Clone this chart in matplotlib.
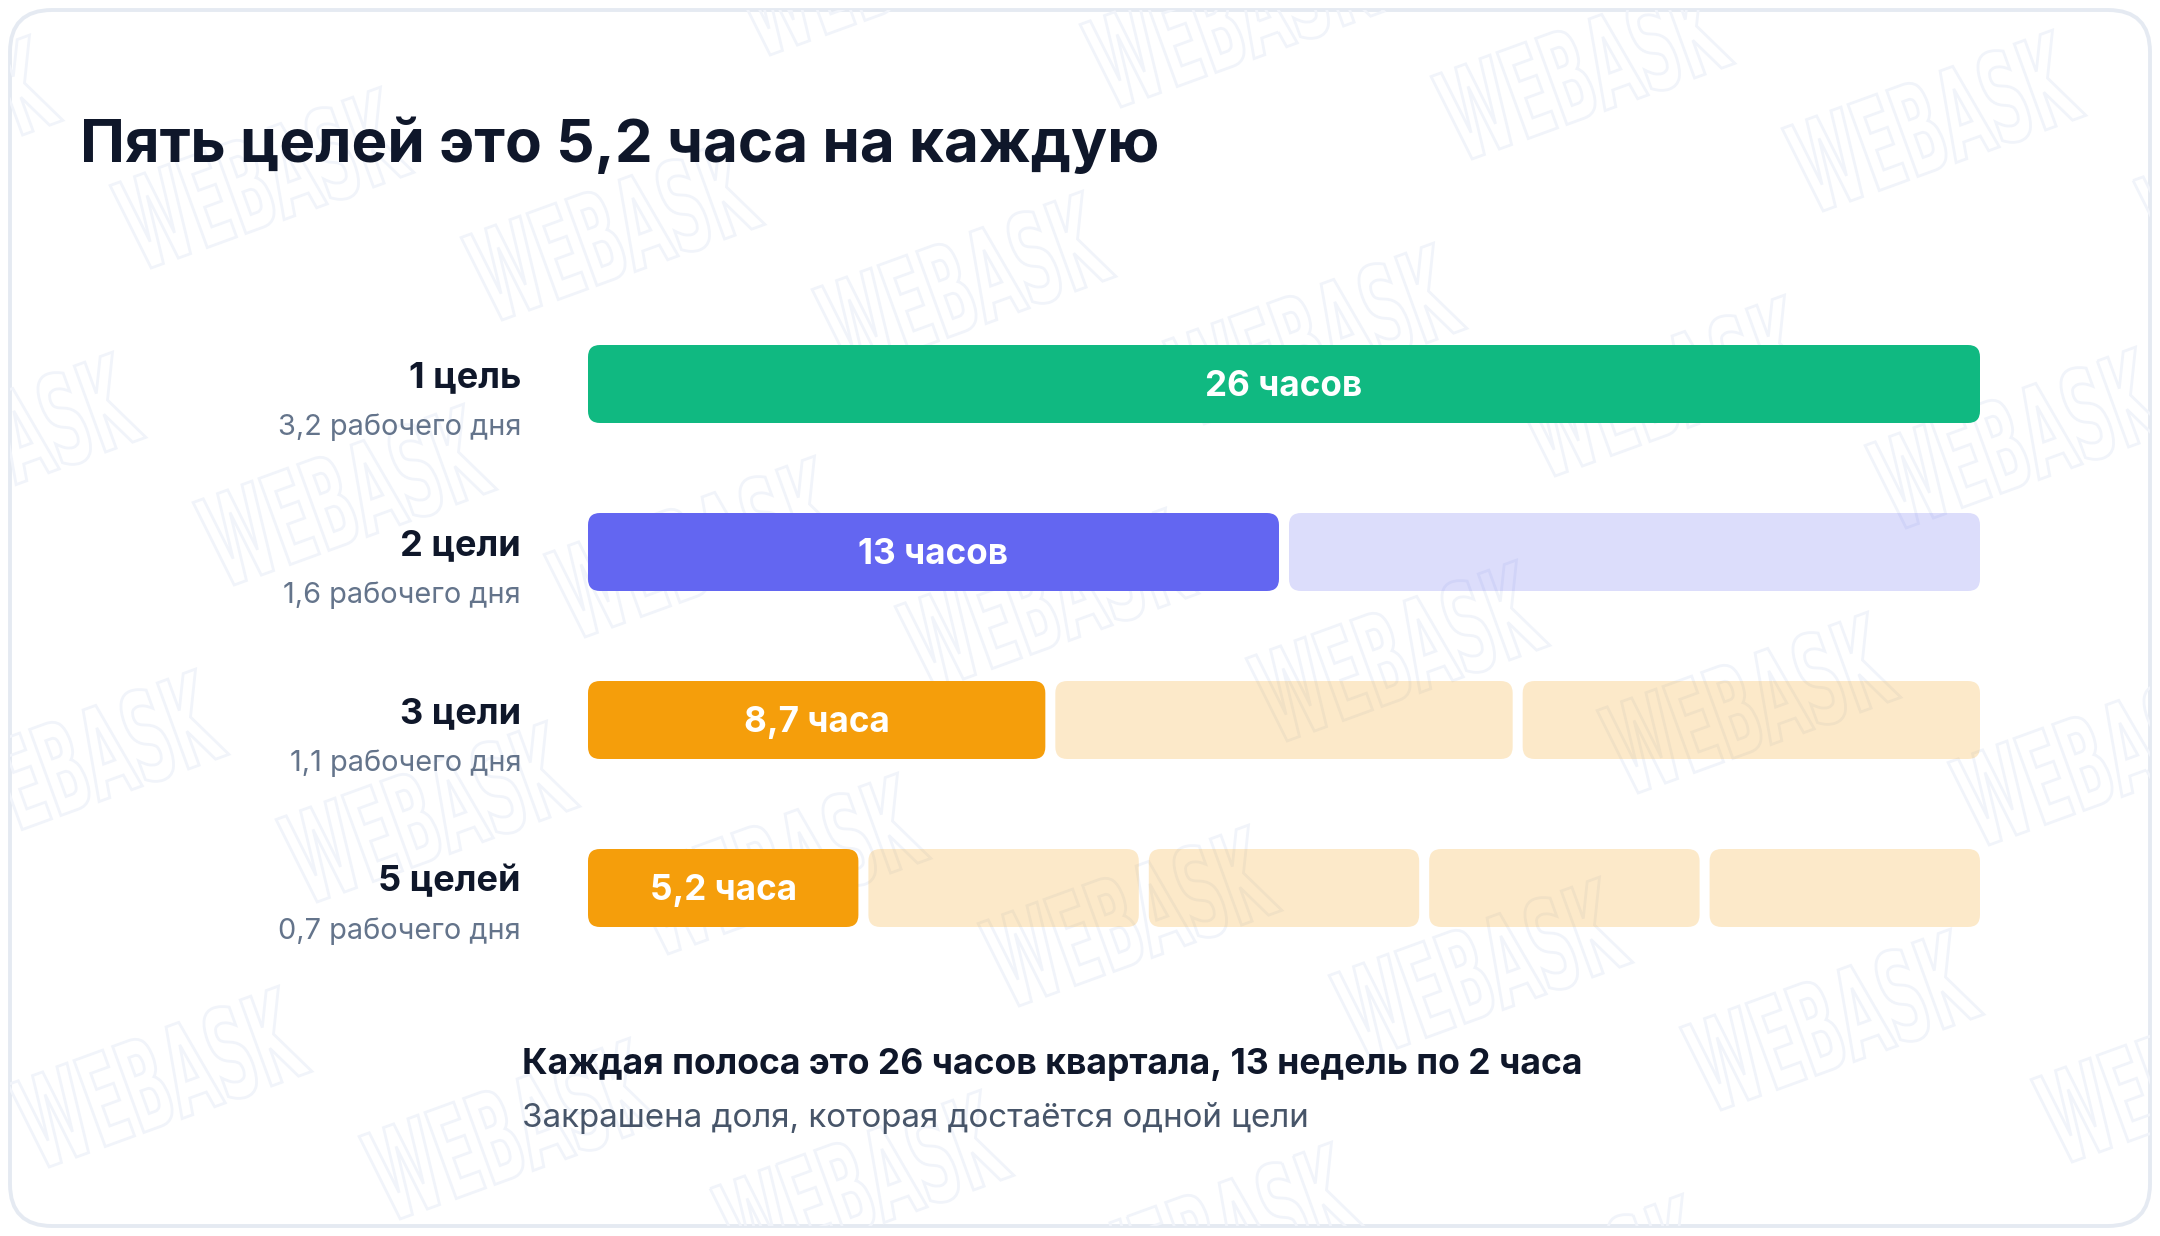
import matplotlib
matplotlib.use("Agg")
import matplotlib.pyplot as plt
from matplotlib.patches import FancyBboxPatch, PathPatch
from matplotlib.textpath import TextPath
from matplotlib.font_manager import FontProperties
from matplotlib.transforms import Affine2D, blended_transform_factory

# ---------------- data ----------------
total_hours = 26
goals = [1, 2, 3, 5]
goal_labels = ["1 цель", "2 цели", "3 цели", "5 целей"]
day_labels = ["3,2 рабочего дня", "1,6 рабочего дня", "1,1 рабочего дня", "0,7 рабочего дня"]
hour_labels = ["26 часов", "13 часов", "8,7 часа", "5,2 часа"]
bar_colors = ["#10B981", "#6366F1", "#F59E0B", "#F59E0B"]

title = "Пять целей это 5,2 часа на каждую"
note_bold = "Каждая полоса это 26 часов квартала, 13 недель по 2 часа"
note_regular = "Закрашена доля, которая достаётся одной цели"

# ---------------- figure ----------------
W, H = 2160, 1236
DPI = 200
plt.rcParams["font.family"] = ["Inter", "DejaVu Sans"]
fig = plt.figure(figsize=(W / DPI, H / DPI), dpi=DPI)
fig.patch.set_facecolor("white")

# background / card axes in pixel coords (y up)
bg = fig.add_axes([0, 0, 1, 1])
bg.set_xlim(0, W)
bg.set_ylim(0, H)
bg.axis("off")

card = FancyBboxPatch((10, 10), W - 20, H - 20,
                      boxstyle="round,pad=0,rounding_size=42",
                      facecolor="white", edgecolor="#E5EAF2", linewidth=1.4, zorder=0)
bg.add_patch(card)

# faint watermark tiles
wm_prop = FontProperties(family="DejaVu Sans", weight="bold")
tp = TextPath((0, 0), "WEBASK", size=100, prop=wm_prop)
ext = tp.get_extents()
origin = (262, 179)
va_ = (351, 52)
vb_ = (83, 317)
for i in range(-4, 8):
    for j in range(-2, 6):
        cx = origin[0] + i * va_[0] + j * vb_[0]
        cy = origin[1] + i * va_[1] + j * vb_[1]
        if cx < -300 or cx > W + 300 or cy < -200 or cy > H + 200:
            continue
        tr = (Affine2D()
              .translate(-(ext.x0 + ext.width / 2), -(ext.y0 + ext.height / 2))
              .scale(290 / ext.width, 95 / ext.height)
              .rotate_deg(20)
              .translate(cx, H - cy))
        pp = PathPatch(tr.transform_path(tp), facecolor="none",
                       edgecolor="#F1F4FA", linewidth=1.0, zorder=0.5)
        bg.add_patch(pp)
        pp.set_clip_path(card)

# ---------------- bars ----------------
left_px, right_px = 588, 1980
top_px, bot_px = 300, 972
ax = fig.add_axes([left_px / W, 1 - bot_px / H, (right_px - left_px) / W, (bot_px - top_px) / H])
ax.set_xlim(0, total_hours)
ax.set_ylim(len(goals) - 0.5, -0.5)
ax.axis("off")
ax.patch.set_alpha(0)

px_x = total_hours / (right_px - left_px)     # hours per pixel
px_y = len(goals) / (bot_px - top_px)          # rows per pixel
gap = 10 * px_x
radius = 12 * px_x
m_aspect = px_y / px_x
bar_h = 78 * px_y

lab_tr = blended_transform_factory(ax.transAxes, ax.transData)
label_x = -(left_px - 521) / (right_px - left_px)

texts_label, texts_day, texts_bar = [], [], []
for row, (n, gl, dl, hl, col) in enumerate(zip(goals, goal_labels, day_labels, hour_labels, bar_colors)):
    seg_w = (total_hours - (n - 1) * gap) / n
    for k in range(n):
        x0 = k * (seg_w + gap)
        patch = FancyBboxPatch((x0, row - bar_h / 2), seg_w, bar_h,
                               boxstyle=f"round,pad=0,rounding_size={radius}",
                               mutation_aspect=m_aspect,
                               facecolor=col, edgecolor="none",
                               alpha=1.0 if k == 0 else 0.22, zorder=2)
        ax.add_patch(patch)
    texts_bar.append(ax.text(seg_w / 2, row + 12 * px_y, hl, ha="center", va="baseline",
                             color="white", fontsize=11.5, fontweight="bold", zorder=3))
    texts_label.append(ax.text(label_x, row + 3 * px_y, gl, transform=lab_tr, ha="right",
                               va="baseline", color="#0F172A", fontsize=12, fontweight="bold"))
    texts_day.append(ax.text(label_x, row + 51 * px_y, dl, transform=lab_tr, ha="right",
                             va="baseline", color="#64748B", fontsize=10))

t_title = fig.text(80 / W, 1 - 162 / H, title, ha="left", va="baseline",
                   color="#0F172A", fontsize=22, fontweight="bold")
t_nb = fig.text(522 / W, 1 - 1074 / H, note_bold, ha="left", va="baseline",
                color="#0F172A", fontsize=12, fontweight="bold")
t_nr = fig.text(522 / W, 1 - 1127 / H, note_regular, ha="left", va="baseline",
                color="#475569", fontsize=11)

# size text to the reference widths
renderer = fig.canvas.get_renderer()
def fit(t, target):
    w = t.get_window_extent(renderer).width
    return t.get_fontsize() * target / w

fs = fit(t_title, 1080); t_title.set_fontsize(fs)
fs = fit(t_nb, 1063); t_nb.set_fontsize(fs)
fs = fit(t_nr, 788); t_nr.set_fontsize(fs)
fs = fit(texts_label[3], 143)
for t in texts_label: t.set_fontsize(fs)
fs = fit(texts_day[3], 242)
for t in texts_day: t.set_fontsize(fs)
fs = fit(texts_bar[0], 157)
for t in texts_bar: t.set_fontsize(fs)

fig.savefig("out.png", dpi=DPI, facecolor="white")
